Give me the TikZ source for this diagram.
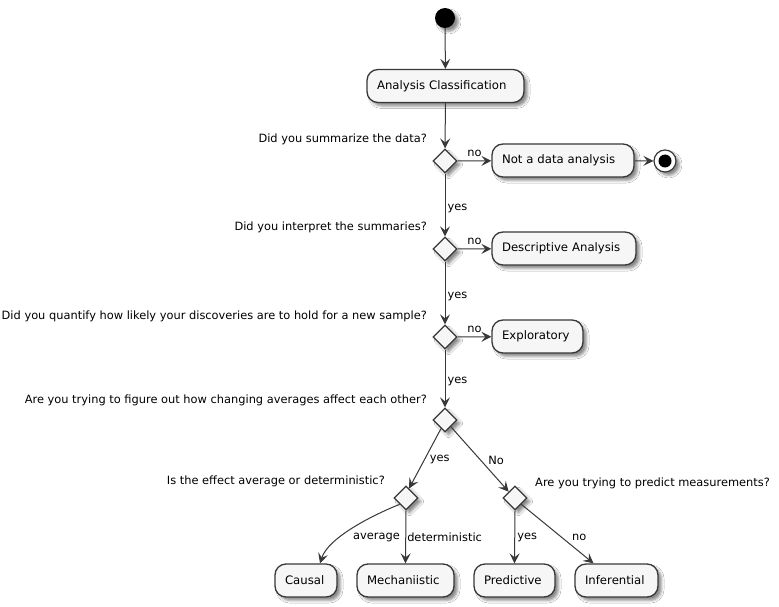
\documentclass[tikz,border=0pt]{standalone}
\usepackage{fontspec}
\setmainfont{DejaVu Sans}
\usetikzlibrary{arrows.meta,shapes.geometric,shadows.blur}
\definecolor{linec}{HTML}{383838}
\definecolor{actfill}{HTML}{F6F6F6}
\tikzset{
  shade3/.style={blur shadow={shadow xshift=3.5pt, shadow yshift=-3.5pt, shadow blur radius=2.5pt, shadow opacity=45}},
  actbox/.style={rectangle, rounded corners=11pt, draw=linec, line width=1.3pt, fill=actfill, shade3,
    minimum height=33pt, inner xsep=10pt, inner ysep=0pt, align=left, font=\fontsize{11.7}{14}\selectfont},
  decide/.style={diamond, draw=linec, line width=1.3pt, fill=actfill, shade3,
    minimum width=24pt, minimum height=24pt, inner sep=0pt},
  cond/.style={font=\fontsize{11.4}{13}\selectfont, inner sep=0pt},
  elabel/.style={font=\fontsize{11.4}{13}\selectfont, inner sep=0pt},
  flow/.style={draw=linec, line width=1pt, -{Stealth[length=10pt, width=10pt, inset=4pt]}},
}
\begin{document}
\begin{tikzpicture}[x=1pt, y=-1pt]
\fill[white] (0,0) rectangle (779,607);
\useasboundingbox (0,0) rectangle (779,607);

% start and end points
\node[circle, fill=black, minimum size=20pt, inner sep=0pt, shade3] (start) at (445,18) {};
\node[circle, draw=linec, line width=1.2pt, fill=white, minimum size=22pt, inner sep=0pt, shade3] (stop) at (665,161) {};
\fill[black] (stop.center) circle (6.5pt);

% activities
\node[actbox, text width=137pt] (classify) at (445.5,86) {Analysis Classification};
\node[actbox, text width=122pt] (notdata) at (563,160.5) {Not a data analysis};
\node[actbox, text width=124pt] (descr) at (564,248.5) {Descriptive Analysis};
\node[actbox, text width=71pt] (explor) at (537.5,336.5) {Exploratory};
\node[actbox, text width=42pt] (causal) at (306,580.5) {Causal};
\node[actbox, text width=77pt] (mech) at (405.5,580.5) {Mechaniistic};
\node[actbox, text width=61pt] (pred) at (514.5,580.5) {Predictive};
\node[actbox, text width=63pt] (infer) at (616.5,580.5) {Inferential};

% decisions
\node[decide] (d1) at (445,161) {};
\node[decide] (d2) at (445,249) {};
\node[decide] (d3) at (445,337) {};
\node[decide] (d4) at (445,420) {};
\node[decide] (d5) at (406,498) {};
\node[decide] (d6) at (515,498) {};

% questions
\node[cond, anchor=east] (q1) at (427,139) {Did you summarize the data?};
\node[cond, anchor=east] (q2) at (427,227) {Did you interpret the summaries?};
\node[cond, anchor=east] (q3) at (427,316) {Did you quantify how likely your discoveries are to hold for a new sample?};
\node[cond, anchor=east] (q4) at (427,400) {Are you trying to figure out how changing averages affect each other?};
\node[cond, anchor=east] (q5) at (385,481) {Is the effect average or deterministic?};
\node[cond, anchor=west] (q6) at (535,483) {Are you trying to predict measurements?};

% main flow
\draw[flow] (start) -- (classify);
\draw[flow] (classify) -- (d1);
\draw[flow] (d1) -- (notdata) node[elabel, pos=0.5, above=4pt] {no};
\draw[flow] (notdata) -- (stop);
\draw[flow] (d1) -- (d2) node[elabel, pos=0.55, right=2pt] {yes};
\draw[flow] (d2) -- (descr) node[elabel, pos=0.5, above=4pt] {no};
\draw[flow] (d2) -- (d3) node[elabel, pos=0.55, right=2pt] {yes};
\draw[flow] (d3) -- (explor) node[elabel, pos=0.5, above=4pt] {no};
\draw[flow] (d3) -- (d4) node[elabel, pos=0.55, right=2pt] {yes};

% branches
\draw[flow] (d4.245) -- (d5.72) node[elabel, pos=0.52, right=5pt] {yes};
\draw[flow] (d4.-49) -- (d6.north west) node[elabel, pos=0.52, right=7pt] {No};
\draw[flow] (d5.south west) .. controls +(-30,12) and +(8,-25) .. ([xshift=14pt]causal.north);
\node[elabel, anchor=east] (lavg) at (400,537) {average};
\draw[flow] (d5.south) -- (mech.north) node[elabel, pos=0.5, right=1pt] {deterministic};
\draw[flow] (d6.south) -- (pred.north) node[elabel, pos=0.5, right=2pt] {yes};
\draw[flow] (d6.south east) -- ([xshift=-23pt]infer.north) node[elabel, pos=0.56, right=10pt] {no};
\end{tikzpicture}
\end{document}
